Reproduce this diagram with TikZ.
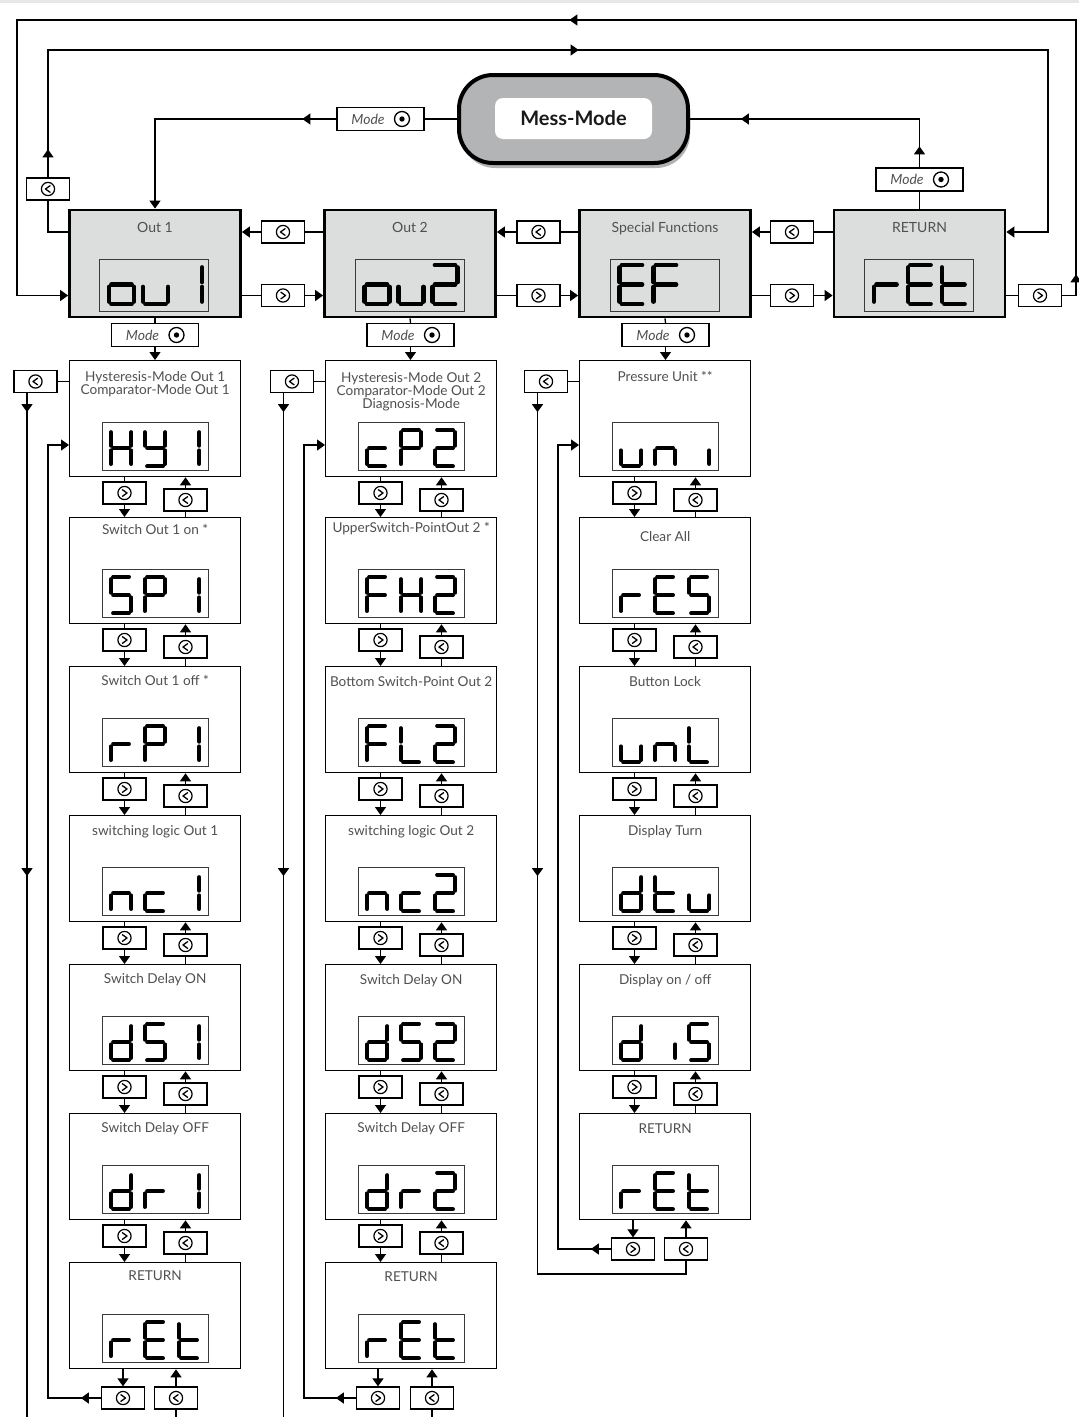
\documentclass[tikz,border=0pt]{standalone}
\usepackage{fontspec}
\setmainfont{Lato}
\usetikzlibrary{arrows.meta,calc,decorations.markings,shadows}
\definecolor{boxgray}{HTML}{DCDDDD}
\definecolor{messgray}{HTML}{B2B4B6}
\definecolor{txt}{HTML}{505050}
\definecolor{stripgray}{HTML}{E6E7E8}
\definecolor{dispframe}{HTML}{3A3A3A}

\newcommand{\zg}{2.3}
\newcommand{\zlw}{3.8pt}
\def\zsa{(\zg,0) -- ({\zw-\zg},0)}
\def\zsb{(\zw,\zg) -- (\zw,{\zh/2-\zg})}
\def\zsc{(\zw,{\zh/2+\zg}) -- (\zw,{\zh-\zg})}
\def\zsd{(\zg,\zh) -- ({\zw-\zg},\zh)}
\def\zse{(0,{\zh/2+\zg}) -- (0,{\zh-\zg})}
\def\zsf{(0,\zg) -- (0,{\zh/2-\zg})}
\def\zsg{(\zg,{\zh/2}) -- ({\zw-\zg},{\zh/2})}
\newcommand{\segdraw}[1]{\draw[line width=\zlw,line cap=round] #1;}
\newcommand{\segchar}[5]{%
  \ifx\relax#5\relax\else
  \begin{scope}[shift={(#1,#2)}]
    \def\zw{#3}\def\zh{#4}%
    \foreach \s in {#5}{\expandafter\segdraw\csname zs\s\endcsname}%
  \end{scope}\fi}
\newcommand{\smalldisp}[6]{%
  \node[disp,minimum width=106pt,minimum height=48pt,anchor=north west] (#1) at (#2,#3) {};%
  \def\zlw{3.9pt}%
  \segchar{#2+8.8}{#3+7.8}{20.5}{36.5}{#4}%
  \segchar{#2+42.8}{#3+7.8}{20.5}{36.5}{#5}%
  \segchar{#2+76.8}{#3+7.8}{20.5}{36.5}{#6}}
\newcommand{\topdisp}[6]{%
  \node[disp,minimum width=109pt,minimum height=52pt,anchor=north west] (#1) at (#2,#3) {};%
  \def\zlw{4.3pt}%
  \segchar{#2+10}{#3+6}{25}{39}{#4}%
  \segchar{#2+44}{#3+6}{25}{39}{#5}%
  \segchar{#2+78}{#3+6}{25}{39}{#6}}
\newcommand{\colrow}[9]{%
  \node[cbox,minimum height=#4pt,anchor=north west] (#1) at (#2,#3) {};%
  \node[lbl] at ($(#1.north)+(0,#5+4.5)$) {#6};%
  \smalldisp{#1d}{#2+33}{#3+#4-54}{#7}{#8}{#9}}
\newcommand{\navbtn}[4]{%
  \node[navbtn] (#1) at (#2,#3) {};%
  \draw[line width=1.2pt] (#1.center) circle (6.6pt);%
  \ifx l#4%
    \draw[chev] ($(#1.center)+(2.1,-3.3)$) -- ($(#1.center)+(-2.5,0)$) -- ($(#1.center)+(2.1,3.3)$);%
  \else
    \draw[chev] ($(#1.center)+(-2.1,-3.3)$) -- ($(#1.center)+(2.5,0)$) -- ($(#1.center)+(-2.1,3.3)$);%
  \fi}
\newcommand{\modebtn}[3]{%
  \node[modebtn] (#1) at (#2,#3) {};%
  \node[modetxt] at ($(#1.center)+(-12.5,0)$) {Mode};%
  \draw[line width=1.3pt] ($(#1.center)+(21.5,0)$) circle (7.5pt);%
  \fill ($(#1.center)+(21.5,0)$) circle (2.7pt);}
\newcommand{\rowlink}[5]{%
  \navbtn{#3g}{#4+55.5}{#5+17}{r}%
  \navbtn{#3l}{#4+116.5}{#5+24}{l}%
  \draw[conn] (#1.south -| #3g) -- (#3g.north);%
  \draw[arr] (#3g.south) -- (#2.north -| #3g);%
  \draw[conn] (#2.north -| #3l) -- (#3l.south);%
  \draw[arr] (#3l.north) -- (#1.south -| #3l);}

\tikzset{
  conn/.style={line width=1.3pt},
  arr/.style={line width=1.3pt,-{Triangle[length=8pt,width=11pt]}},
  midarr/.style={postaction={decorate,decoration={markings,mark=at position #1 with {\arrow{Triangle[length=8pt,width=11pt]}}}}},
  topbox/.style={draw,line width=2.8pt,fill=boxgray,minimum width=171pt,minimum height=107pt,inner sep=0pt},
  cbox/.style={draw,line width=1.3pt,fill=white,minimum width=171pt,inner sep=0pt},
  disp/.style={draw=dispframe,line width=0.9pt,inner sep=0pt},
  navbtn/.style={draw,line width=1.3pt,fill=white,minimum width=43pt,minimum height=22pt,inner sep=0pt},
  modebtn/.style={draw,line width=1.3pt,fill=white,minimum width=87pt,minimum height=23pt,inner sep=0pt},
  modetxt/.style={font=\fontsize{14}{14}\selectfont\itshape,text=txt,inner sep=0pt},
  chev/.style={line width=1.3pt,line join=round,line cap=round},
  lbl/.style={font=\fontsize{13.6}{13.6}\selectfont,text=txt,inner sep=0pt,anchor=base},
  toplbl/.style={font=\fontsize{14}{14}\selectfont,text=txt,inner sep=0pt,anchor=base},
}

\begin{document}
\begin{tikzpicture}[x=1pt,y=-1pt]
\useasboundingbox (0,0) rectangle (1079,1417);
\fill[stripgray] (0,0) rectangle (1079,3);

% ---------- Mess-Mode ----------
\node[draw,line width=4pt,fill=messgray,rounded corners=34pt,minimum width=229pt,minimum height=88pt,
      drop shadow={shadow xshift=2pt,shadow yshift=-5pt,opacity=0.3,fill=black}] (mess) at (573.5,119) {};
\node[fill=white,rounded corners=8pt,minimum width=157pt,minimum height=41pt,inner sep=0pt,
      font=\bfseries\fontsize{20}{20}\selectfont,text=black!90] (messin) at (573.5,118.5) {Mess-Mode};

\modebtn{mA}{380.5}{119}
\modebtn{mB}{919.5}{179.5}

% ---------- top row ----------
\node[topbox] (out1) at (155,263.5) {};
\node[topbox] (out2) at (410,263.5) {};
\node[topbox] (sf) at (665,263.5) {};
\node[topbox] (ret) at (919.5,263.5) {};
\node[toplbl] at ($(out1.north)+(0,24)$) {Out 1};
\node[toplbl] at ($(out2.north)+(0,24)$) {Out 2};
\node[toplbl] at ($(sf.north)+(0,24)$) {Special Functions};
\node[toplbl] at ($(ret.north)+(0,24)$) {RETURN};
\topdisp{out1d}{99}{259}{c,d,e,g}{c,d,e}{b,c}
\topdisp{out2d}{354.5}{259}{c,d,e,g}{c,d,e}{a,b,d,e,g}
\topdisp{sfd}{609.5}{259}{a,d,e,f,g}{a,e,f,g}{}
\topdisp{retd}{864}{259}{e,g}{a,d,e,f,g}{d,e,f,g}

\navbtn{b12l}{283}{232}{l}
\navbtn{b12r}{283}{295.5}{r}
\navbtn{b23l}{538.5}{232}{l}
\navbtn{b23r}{538.5}{295.5}{r}
\navbtn{b34l}{792}{232}{l}
\navbtn{b34r}{792}{295.5}{r}
\navbtn{b4r}{1040}{295.5}{r}
\navbtn{b1l}{48}{189}{l}

\coordinate (t1L) at (17,20);
\coordinate (t1R) at (1076,20);
\coordinate (t2L) at (48,50);
\coordinate (t2R) at (1048,50);
\coordinate (pagebot) at (0,1417);

\draw[conn] (mess.west) -- (mA.east);
\draw[arr,midarr=34pt] (mA.west) -| (out1.north);
\draw[conn] (ret.north) -- (mB.south);
\draw[conn,midarr=21pt,midarr=227pt] (mB.north) |- (mess.east);

\draw[conn] (out1.west |- b12l) -| (b1l.south);
\draw[arr,midarr=28pt,midarr=658pt] (b1l.north) -- (t2L) -- (t2R) -- (t2R |- b34l) -- (ret.east |- b34l);
\draw[conn] (ret.east |- b4r) -- (b4r.west);
\draw[arr,midarr=35pt,midarr=796pt] (b4r.east) -- (t1R |- b4r) -- (t1R) -- (t1L) -- (t1L |- b4r) -- (out1.west |- b4r);

\draw[conn] (out2.west |- b12l) -- (b12l.east);
\draw[arr] (b12l.west) -- (out1.east |- b12l);
\draw[conn] (out1.east |- b12r) -- (b12r.west);
\draw[arr] (b12r.east) -- (out2.west |- b12r);
\draw[conn] (sf.west |- b23l) -- (b23l.east);
\draw[arr] (b23l.west) -- (out2.east |- b23l);
\draw[conn] (out2.east |- b23r) -- (b23r.west);
\draw[arr] (b23r.east) -- (sf.west |- b23r);
\draw[conn] (ret.west |- b34l) -- (b34l.east);
\draw[arr] (b34l.west) -- (sf.east |- b34l);
\draw[conn] (sf.east |- b34r) -- (b34r.west);
\draw[arr] (b34r.east) -- (ret.west |- b34r);

% ---------- column 1 ----------
\modebtn{m1}{155}{335}
\colrow{a0}{69}{360}{116}{0}{}{b,c,e,f,g}{b,c,d,f,g}{b,c}
\node[lbl] at ($(a0.north)+(0,21.5)$) {Hysteresis-Mode Out 1};
\node[lbl] at ($(a0.north)+(0,34.5)$) {Comparator-Mode Out 1};
\colrow{a1}{69}{517}{106}{13}{Switch Out 1 on *}{a,c,d,f,g}{a,b,e,f,g}{b,c}
\colrow{a2}{69}{666}{106}{15}{Switch Out 1 off *}{e,g}{a,b,e,f,g}{b,c}
\colrow{a3}{69}{815}{106}{16}{switching logic Out 1}{c,e,g}{d,e,g}{b,c}
\colrow{a4}{69}{964}{106}{15}{Switch Delay ON}{b,c,d,e,g}{a,c,d,f,g}{b,c}
\colrow{a5}{69}{1113}{106}{15}{Switch Delay OFF}{b,c,d,e,g}{e,g}{b,c}
\colrow{a6}{69}{1262}{106}{14}{RETURN}{e,g}{a,d,e,f,g}{d,e,f,g}
\draw[conn] (out1.south) -- (m1.north);
\draw[arr] (m1.south) -- (m1.south |- a0.north);
\rowlink{a0}{a1}{ka0}{69}{476}
\rowlink{a1}{a2}{ka1}{69}{623}
\rowlink{a2}{a3}{ka2}{69}{772}
\rowlink{a3}{a4}{ka3}{69}{921}
\rowlink{a4}{a5}{ka4}{69}{1070}
\rowlink{a5}{a6}{ka5}{69}{1219}
\navbtn{sa}{35.5}{381.5}{l}
\draw[conn] (a0.west |- sa) -- (sa.east);
\coordinate (sax) at ($(sa.south)+(-8.5,0)$);
\draw[conn,midarr=19pt,midarr=483pt] (sax) -- (sax |- pagebot);
\navbtn{ea}{123}{1398}{r}
\navbtn{la}{176}{1398}{l}
\draw[arr] (a6.south -| ea) -- (ea.north);
\draw[arr] (la.north) -- (a6.south -| la);
\draw[conn] (la.south) -- (la.south |- pagebot);
\coordinate (ra) at (48,445);
\draw[arr,midarr=20pt] (ea.west) -- (ra |- ea) -- (ra) -- (a0.west |- ra);

% ---------- column 2 ----------
\modebtn{m2}{410.5}{335}
\colrow{b0}{325}{360}{116}{0}{}{d,e,g}{a,b,e,f,g}{a,b,d,e,g}
\node[lbl] at ($(b0.north)+(0,22.5)$) {Hysteresis-Mode Out 2};
\node[lbl] at ($(b0.north)+(0,35.5)$) {Comparator-Mode Out 2};
\node[lbl] at ($(b0.north)+(0,48.5)$) {Diagnosis-Mode};
\colrow{b1}{325}{517}{106}{11}{UpperSwitch-PointOut 2 *}{a,e,f,g}{b,c,e,f,g}{a,b,d,e,g}
\colrow{b2}{325}{666}{106}{16}{Bottom Switch-Point Out 2}{a,e,f,g}{d,e,f}{a,b,d,e,g}
\colrow{b3}{325}{815}{106}{16}{switching logic Out 2}{c,e,g}{d,e,g}{a,b,d,e,g}
\colrow{b4}{325}{964}{106}{16}{Switch Delay ON}{b,c,d,e,g}{a,c,d,f,g}{a,b,d,e,g}
\colrow{b5}{325}{1113}{106}{15}{Switch Delay OFF}{b,c,d,e,g}{e,g}{a,b,d,e,g}
\colrow{b6}{325}{1262}{106}{15}{RETURN}{e,g}{a,d,e,f,g}{d,e,f,g}
\draw[conn] (out2.south) -- (m2.north);
\draw[arr] (m2.south) -- (m2.south |- b0.north);
\rowlink{b0}{b1}{kb0}{325}{476}
\rowlink{b1}{b2}{kb1}{325}{623}
\rowlink{b2}{b3}{kb2}{325}{772}
\rowlink{b3}{b4}{kb3}{325}{921}
\rowlink{b4}{b5}{kb4}{325}{1070}
\rowlink{b5}{b6}{kb5}{325}{1219}
\navbtn{sb}{292}{381.5}{l}
\draw[conn] (b0.west |- sb) -- (sb.east);
\coordinate (sbx) at ($(sb.south)+(-8.5,0)$);
\draw[conn,midarr=19pt,midarr=483pt] (sbx) -- (sbx |- pagebot);
\navbtn{eb}{378}{1398}{r}
\navbtn{lb}{432}{1398}{l}
\draw[arr] (b6.south -| eb) -- (eb.north);
\draw[arr] (lb.north) -- (b6.south -| lb);
\draw[conn] (lb.south) -- (lb.south |- pagebot);
\coordinate (rb) at (304,445);
\draw[arr,midarr=20pt] (eb.west) -- (rb |- eb) -- (rb) -- (b0.west |- rb);

% ---------- column 3 ----------
\modebtn{m3}{665.5}{335}
\colrow{c0}{579}{360}{116}{17}{Pressure Unit **}{c,d,e}{c,e,g}{c}
\colrow{c1}{579}{517}{106}{20}{Clear All}{e,g}{a,d,e,f,g}{a,c,d,f,g}
\colrow{c2}{579}{666}{106}{16}{Button Lock}{c,d,e}{c,e,g}{d,e,f}
\colrow{c3}{579}{815}{106}{16}{Display Turn}{b,c,d,e,g}{d,e,f,g}{c,d,e}
\colrow{c4}{579}{964}{106}{16}{Display on / off}{b,c,d,e,g}{c}{a,c,d,f,g}
\colrow{c5}{579}{1113}{106}{16}{RETURN}{e,g}{a,d,e,f,g}{d,e,f,g}
\draw[conn] (sf.south) -- (m3.north);
\draw[arr] (m3.south) -- (m3.south |- c0.north);
\rowlink{c0}{c1}{kc0}{579}{476}
\rowlink{c1}{c2}{kc1}{579}{623}
\rowlink{c2}{c3}{kc2}{579}{772}
\rowlink{c3}{c4}{kc3}{579}{921}
\rowlink{c4}{c5}{kc4}{579}{1070}
\navbtn{sc}{546}{381.5}{l}
\draw[conn] (c0.west |- sc) -- (sc.east);
\coordinate (scx) at ($(sc.south)+(-8.5,0)$);
\navbtn{ec}{633}{1249}{r}
\navbtn{lc}{686}{1249}{l}
\draw[arr] (c5.south -| ec) -- (ec.north);
\draw[arr] (lc.north) -- (c5.south -| lc);
\coordinate (c3lp) at (0,1274);
\draw[conn,midarr=19pt,midarr=483pt] (scx) -- (scx |- c3lp) -- (lc.south |- c3lp) -- (lc.south);
\coordinate (rc) at (558,445);
\draw[arr,midarr=20pt] (ec.west) -- (rc |- ec) -- (rc) -- (c0.west |- rc);
\end{tikzpicture}
\end{document}
